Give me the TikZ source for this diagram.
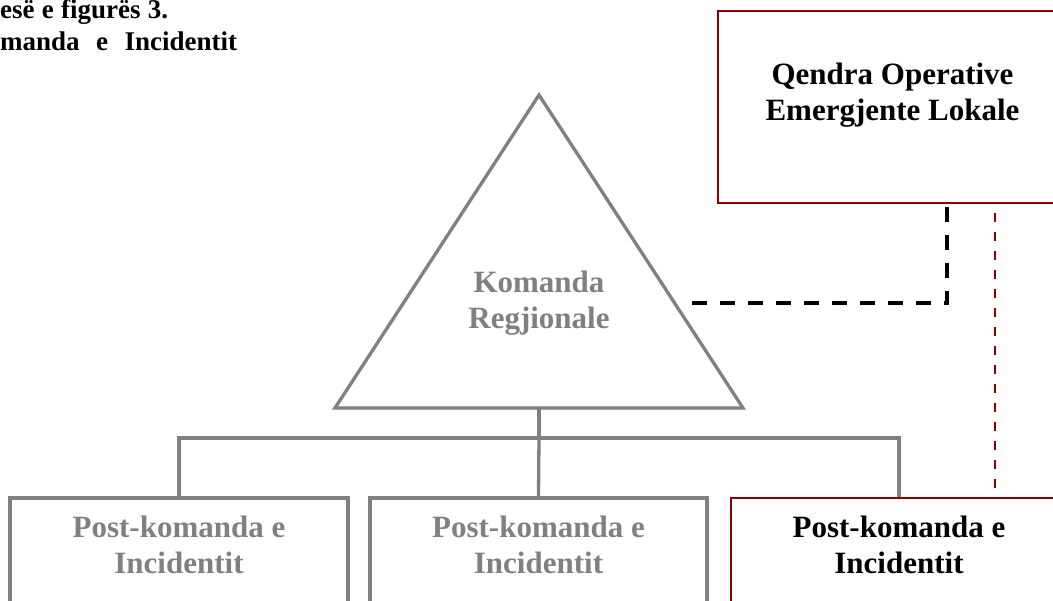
\documentclass[tikz,border=0pt]{standalone}
\usepackage{fontspec}
\setmainfont{Liberation Serif}
\definecolor{dred}{RGB}{139,0,0}
\definecolor{lgray}{RGB}{128,128,128}
\begin{document}
\begin{tikzpicture}[x=1pt,y=-1pt,
  greyline/.style={draw=lgray, line width=3.3pt, line join=miter},
  greybox/.style={draw=lgray, line width=3.3pt, rectangle, inner sep=0pt},
  redbox/.style={draw=dred, line width=2.3pt, rectangle, inner sep=0pt},
  lbl/.style={font=\bfseries\fontsize{31}{36}\selectfont, align=center, inner sep=0pt},
  blackdash/.style={draw=black, line width=3.5pt, dash pattern=on 15pt off 13pt},
  reddash/.style={draw=dred, line width=2pt, dash pattern=on 9pt off 10pt, dash phase=10pt},
  titlefont/.style={font=\bfseries\fontsize{27}{30}\selectfont, inner sep=0pt, anchor=base west}
]
\useasboundingbox (0,0) rectangle (1053,601);
\clip (0,0) rectangle (1053,601);

% title
\node[titlefont] (title1) at (0,19) {\makebox[168pt][s]{esë e figurës 3.}};
\node[titlefont] (title2) at (0,51) {\makebox[237pt][s]{manda e Incidentit}};

% top-right box
\node[redbox, minimum width=349pt, minimum height=192pt] (qol) at (892.5,107) {};
\node[lbl, anchor=base] (qoltext) at (892.5,121) {Qendra Operative\\Emergjente Lokale};

% triangle
\coordinate (apex) at (539,95);
\coordinate (bl) at (335,408);
\coordinate (br) at (743,408);
\coordinate (tbase) at (539,408);
\draw[greyline] (apex) -- (br) -- (bl) -- cycle;
\node[lbl, text=lgray, anchor=base] (kr) at (539,329) {Komanda\\Regjionale};

% bottom boxes
\node[greybox, minimum width=338pt, minimum height=140pt] (pk1) at (179,568) {};
\node[greybox, minimum width=337pt, minimum height=140pt] (pk2) at (538.5,568) {};
\node[redbox, minimum width=336pt, minimum height=140pt] (pk3) at (899,568) {};
\node[lbl, text=lgray, anchor=base] (pk1text) at (179,573) {Post-komanda e\\Incidentit};
\node[lbl, text=lgray, anchor=base] (pk2text) at (538.5,573) {Post-komanda e\\Incidentit};
\node[lbl, anchor=base] (pk3text) at (899,573) {Post-komanda e\\Incidentit};

% tree connectors
\coordinate (bar) at (539,438);
\draw[greyline] (tbase) -- (bar);
\draw[greyline] (pk1.north) |- (bar) -| (pk3.north);
\draw[greyline] (bar) -- (pk2.north);

% dashed connectors
\coordinate (dl) at (692,303);
\coordinate (dc) at (947,303);
\draw[blackdash] (dl) -- (dc) -- (qol.south -| dc);
\coordinate (rx) at (995,0);
\draw[reddash] (qol.south -| rx) -- (pk3.north -| rx);
\end{tikzpicture}
\end{document}
